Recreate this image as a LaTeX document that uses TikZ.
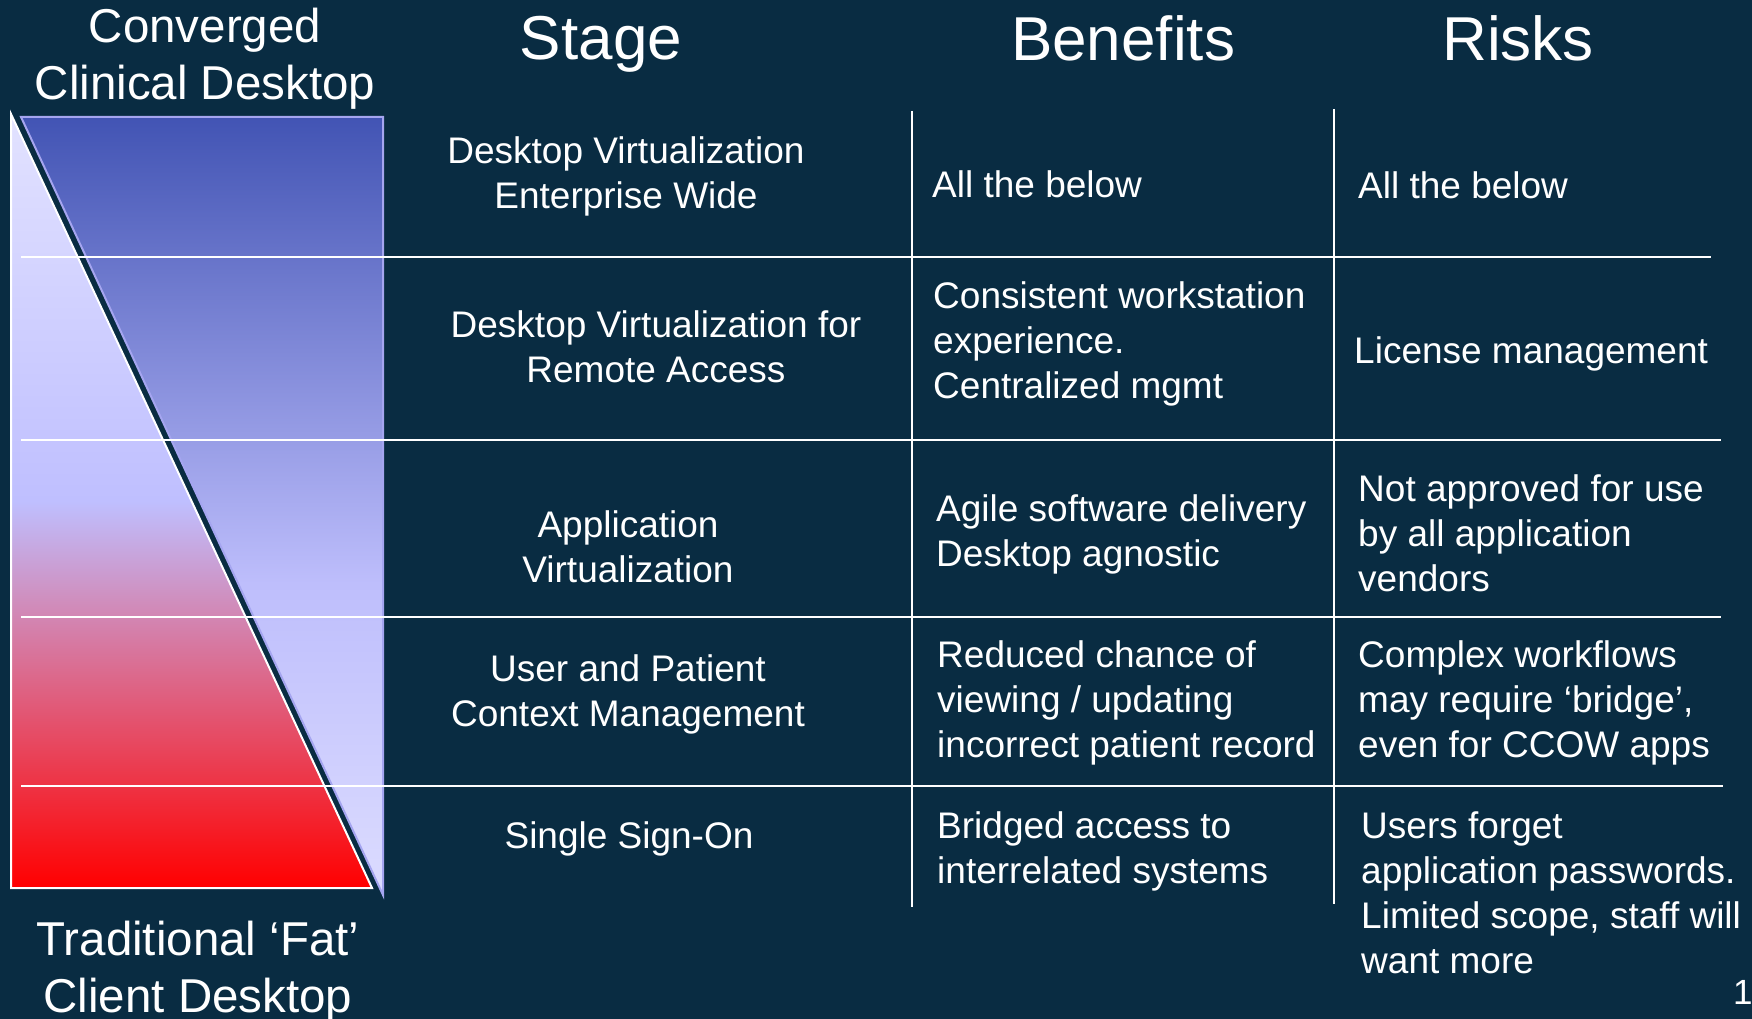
\documentclass[tikz,border=0pt]{standalone}
\usepackage{fontspec}
\setmainfont{Liberation Sans}

\definecolor{slidebg}{RGB}{9,44,66}
\definecolor{fatred}{RGB}{255,0,0}
\definecolor{fatlav}{RGB}{191,191,255}
\definecolor{fattop}{RGB}{226,226,255}
\definecolor{thintop}{RGB}{66,84,180}
\definecolor{thinmid}{RGB}{190,190,252}
\definecolor{thinbot}{RGB}{220,220,255}
\definecolor{thinedge}{RGB}{165,165,240}

\pgfdeclareverticalshading{fatfade}{100bp}{color(0bp)=(fatred); color(25bp)=(fatred); color(50bp)=(fatlav); color(75bp)=(fattop); color(100bp)=(fattop)}
\pgfdeclareverticalshading{thinfade}{100bp}{color(0bp)=(thinbot); color(25bp)=(thinbot); color(45bp)=(thinmid); color(75bp)=(thintop); color(100bp)=(thintop)}

\begin{document}
\begin{tikzpicture}[x=1pt, y=-1pt]
\tikzset{
  head/.style={
    text=white,
    inner sep=0pt,
    anchor=base,
    font=\fontsize{62}{74}\selectfont
  },
  sidelabel/.style={
    text=white,
    inner sep=0pt,
    anchor=base,
    align=center,
    font=\fontsize{47.5}{57}\selectfont
  },
  stagecell/.style={
    text=white,
    inner sep=0pt,
    anchor=base,
    align=center,
    font=\fontsize{37}{45}\selectfont
  },
  cell/.style={
    text=white,
    inner sep=0pt,
    anchor=base west,
    align=left,
    font=\fontsize{37}{45}\selectfont
  },
  rule/.style={
    draw=white,
    line width=2pt
  }
}

% slide background
\fill[slidebg] (0,0) rectangle (1752,1019);
\useasboundingbox (0,0) rectangle (1752,1019);

% the two wedges
\path[shading=fatfade, draw=white, line width=2pt, line join=miter]
  (11,114) -- (11,888) -- (372,888) -- cycle;
\path[shading=thinfade, draw=thinedge, line width=2pt, line join=miter]
  (21,117) -- (383,117) -- (383,895) -- cycle;

% table rules
\foreach \y/\e in {257/1711, 440/1721, 617/1721, 786/1723}
  \draw[rule] (21,\y) -- (\e,\y);
\draw[rule] (912,111) -- (912,907);
\draw[rule] (1334,109) -- (1334,904);

% headings (base = last line)
\node[sidelabel] (converged) at (205,100) {Converged\\Clinical Desktop};
\node[sidelabel] (fat) at (198,1012) {Traditional ‘Fat’\\Client Desktop};
\node[head] (h-stage) at (601,60) {Stage};
\node[head] (h-benefits) at (1123,61) {Benefits};
\node[head] (h-risks) at (1518,61) {Risks};

% stages
\node[stagecell] (stage-1) at (626,208) {Desktop Virtualization\\Enterprise Wide};
\node[stagecell] (stage-2) at (656,382) {Desktop Virtualization for\\Remote Access};
\node[stagecell] (stage-3) at (628,582) {Application\\Virtualization};
\node[stagecell] (stage-4) at (628,726) {User and Patient\\Context Management};
\node[stagecell] (stage-5) at (629,848) {Single Sign-On};

% benefits
\node[cell] (benefit-1) at (932,197) {All the below};
\node[cell] (benefit-2) at (933,398) {Consistent workstation\\experience.\\Centralized mgmt};
\node[cell] (benefit-3) at (936,566) {Agile software delivery\\Desktop agnostic};
\node[cell] (benefit-4) at (937,757) {Reduced chance of\\viewing / updating\\incorrect patient record};
\node[cell] (benefit-5) at (937,883) {Bridged access to\\interrelated systems};

% risks
\node[cell] (risk-1) at (1358,198) {All the below};
\node[cell] (risk-2) at (1354,363) {License management};
\node[cell] (risk-3) at (1358,591) {Not approved for use\\by all application\\vendors};
\node[cell] (risk-4) at (1358,757) {Complex workflows\\may require ‘bridge’,\\even for CCOW apps};
\node[cell] (risk-5) at (1361,973) {Users forget\\application passwords.\\Limited scope, staff will\\want more};

\node[cell, font=\fontsize{35}{42}\selectfont] (pageno) at (1733,1004) {1};
\end{tikzpicture}
\end{document}
